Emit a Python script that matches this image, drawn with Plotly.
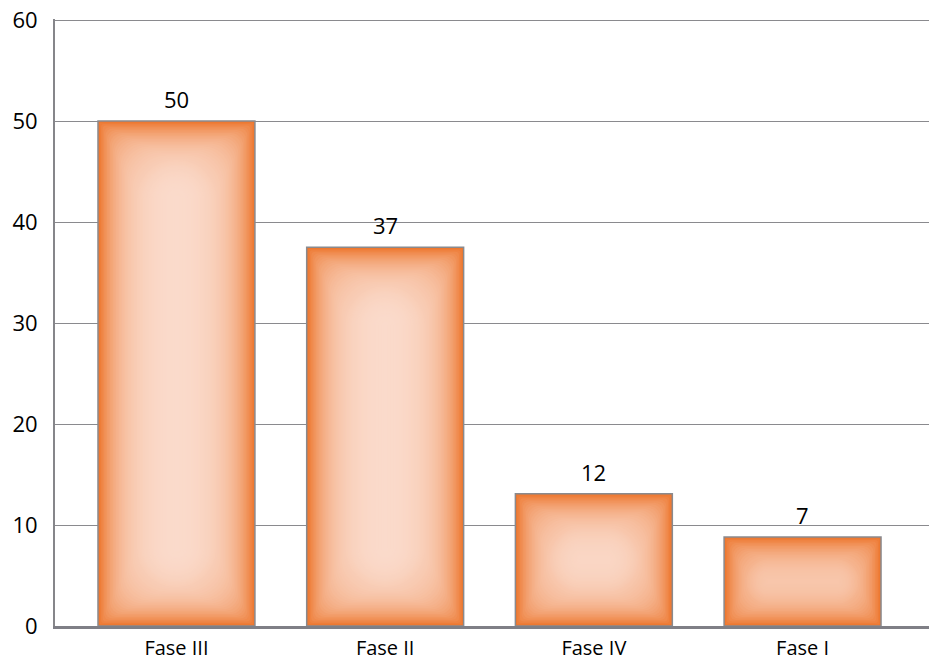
import math
import plotly.graph_objects as go

categories = ["Fase III", "Fase II", "Fase IV", "Fase I"]
values = [50.0, 37.5, 13.1, 8.8]
value_labels = ["50", "37", "12", "7"]
y_ticks = [0, 10, 20, 30, 40, 50, 60]

W, H = 937, 664
ML, MR, MT, MB = 55, 8, 19, 38
plot_w = W - ML - MR
plot_h = H - MT - MB
y_range = [0, 60.1]
x_range = [-0.582, -0.582 + plot_w / 208.7]
px_per_y = plot_h / (y_range[1] - y_range[0])
px_per_x = plot_w / (x_range[1] - x_range[0])
bar_w = 0.752

edge = (237, 118, 45)
center = (251, 224, 212)
tau = 22.0
step = 1.5
FONT = "Open Sans"


def mix(t):
    t = max(0.0, min(1.0, t))
    c = [round(edge[i] + (center[i] - edge[i]) * t) for i in range(3)]
    return "rgb(%d,%d,%d)" % tuple(c)


def glow(u):
    return 1.0 - math.exp(-max(u, 0.0) / tau)


fig = go.Figure()

# outer bar with outline
fig.add_trace(go.Bar(
    x=list(range(len(categories))), y=values, width=bar_w,
    marker=dict(color=mix(0), line=dict(color="#8a8a8e", width=1.5)),
    hoverinfo="skip", showlegend=False,
))

k = 1
while True:
    d = k * step
    any_bar = False
    for i, v in enumerate(values):
        half_h = v * px_per_y / 2
        half_w = bar_w * px_per_x / 2
        hmin = min(half_h, half_w)
        if d >= hmin - 0.75:
            continue
        any_bar = True
        dy = d / px_per_y
        dx = d / px_per_x
        t = glow(d) * glow(2 * hmin - d)
        rad = min(d * 1.0, hmin - d - 0.5)
        fig.add_trace(go.Bar(
            x=[i], y=[v - 2 * dy], base=[dy], width=[bar_w - 2 * dx],
            marker=dict(color=mix(t), line=dict(width=0),
                        cornerradius=max(rad, 0)),
            hoverinfo="skip", showlegend=False,
        ))
    if not any_bar:
        break
    k += 1

for i, (v, lab) in enumerate(zip(values, value_labels)):
    fig.add_annotation(x=i, y=v, text=lab, showarrow=False,
                       yanchor="bottom", yshift=5,
                       font=dict(size=22, color="#000000", family=FONT))

fig.update_layout(
    width=W, height=H,
    margin=dict(l=ML, r=MR, t=MT, b=MB, autoexpand=False),
    paper_bgcolor="white", plot_bgcolor="white",
    barmode="overlay",
    font=dict(family=FONT, size=22, color="#000000"),
    xaxis=dict(
        range=x_range, tickmode="array",
        tickvals=list(range(len(categories))), ticktext=categories,
        showline=True, linecolor="#7f7f86", linewidth=3,
        showgrid=False, zeroline=False, ticks="", ticklabelstandoff=2,
        tickfont=dict(size=20),
    ),
    yaxis=dict(
        range=y_range, tickmode="array", tickvals=y_ticks,
        showline=True, linecolor="#86868a", linewidth=2,
        showgrid=True, gridcolor="#8a8a8e", gridwidth=1,
        zeroline=False, ticks="", ticklabelstandoff=11,
    ),
)

fig.write_html(
    "out.html",
    config={"displayModeBar": False},
    post_script="document.body.style.margin='0';document.body.style.overflow='hidden';",
)
